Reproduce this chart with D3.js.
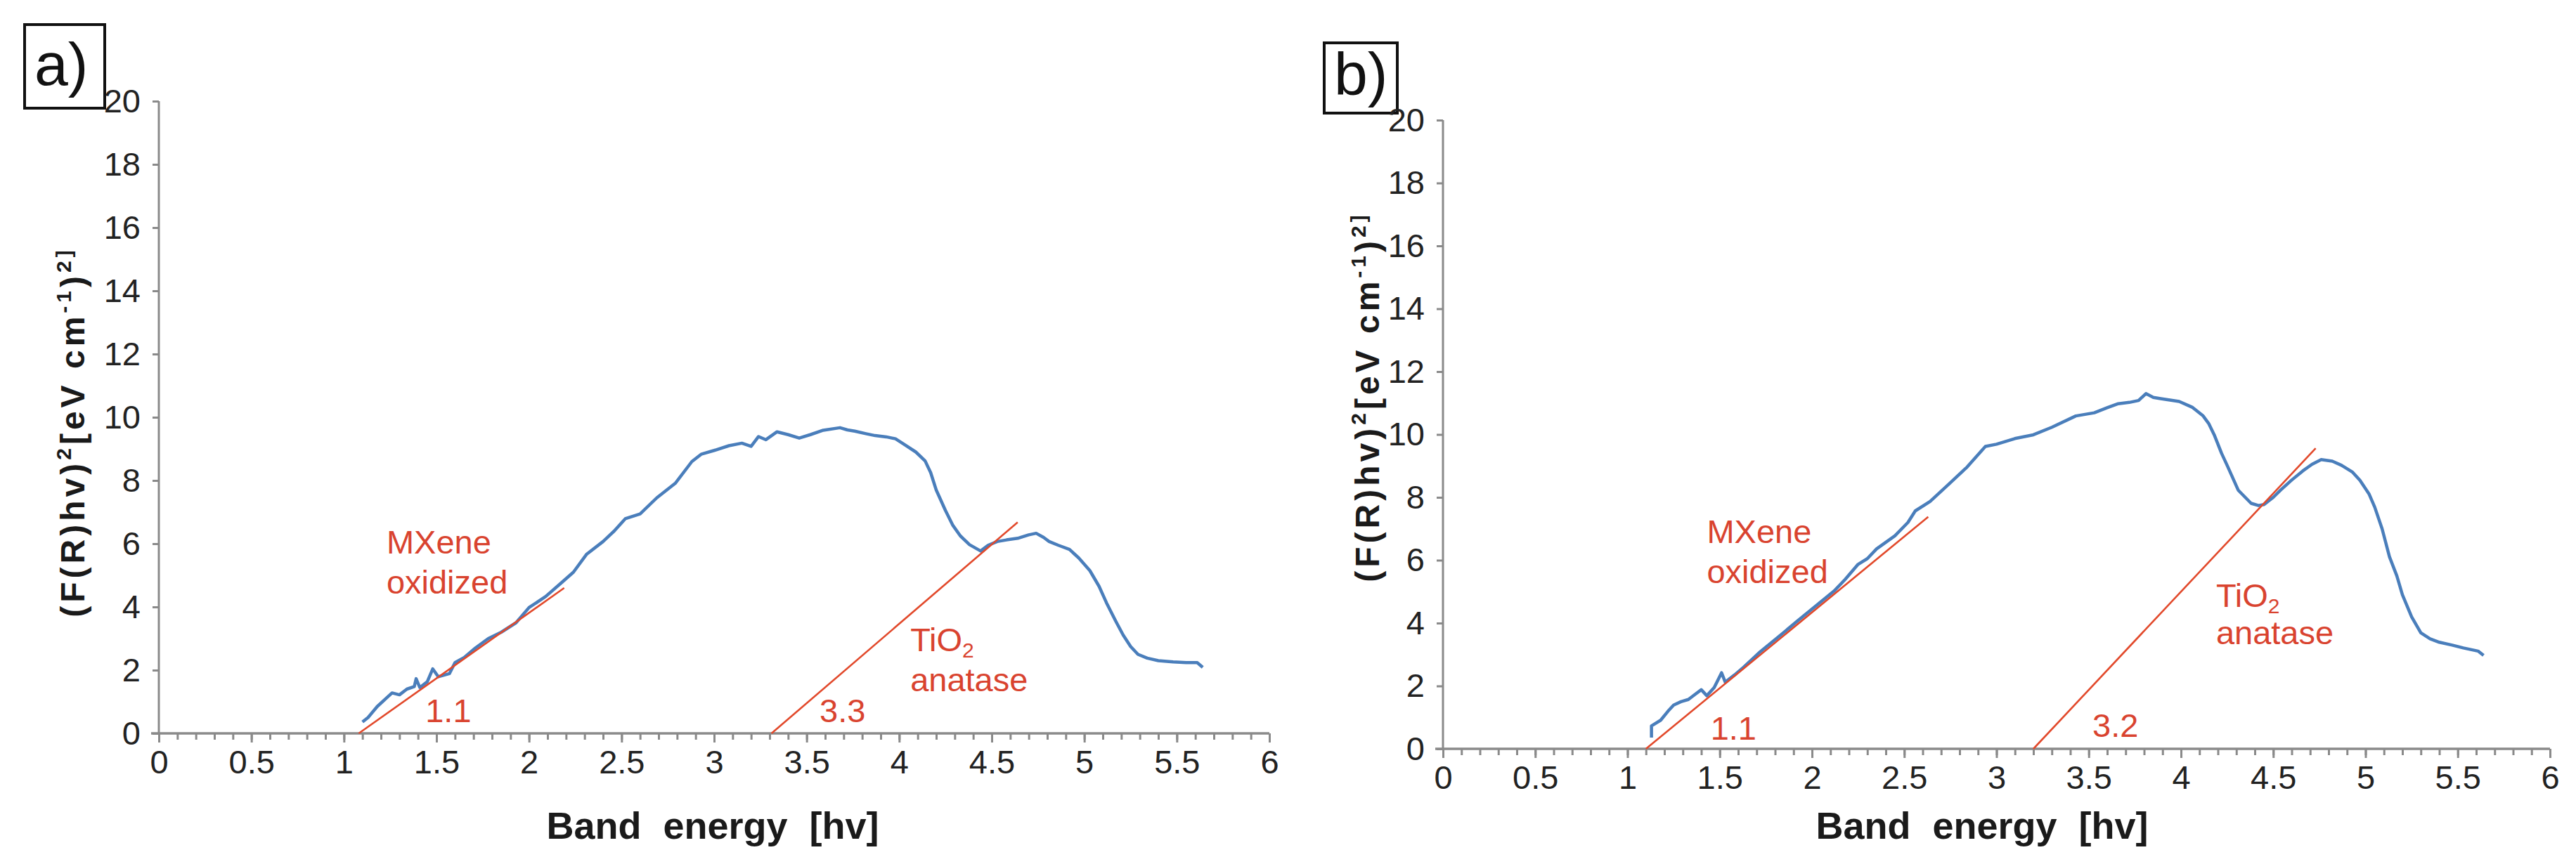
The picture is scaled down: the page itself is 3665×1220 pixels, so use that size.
<!DOCTYPE html>
<meta charset="utf-8">
<style>
body { margin: 0; background: #fff; }
svg { display: block; }
text { font-family: "Liberation Sans", Arial, sans-serif; }
.axis path.domain { display: none; }
.axis line { stroke: #8a8a8a; stroke-width: 3px; }
.axis text { font-size: 47px; fill: #222; }
.ytitle, .xtitle { font-weight: bold; fill: #1a1a1a; }
.note { font-size: 47px; fill: #d9432f; }
</style>
<body>
<div id="chart"></div>
<script src="https://cdn.jsdelivr.net/npm/d3@7"></script>
<script>
// axis ticks
var xTicks = [0, 0.5, 1, 1.5, 2, 2.5, 3, 3.5, 4, 4.5, 5, 5.5, 6];
var yTicks = [0, 2, 4, 6, 8, 10, 12, 14, 16, 18, 20];

// panel a) band energy / (F(R)hv)^2
var energyA = [1.10,1.13,1.18,1.23,1.26,1.30,1.34,1.38,1.39,1.41,1.45,1.48,1.51,1.57,1.60,1.65,1.71,1.78,1.85,1.93,
  2.00,2.09,2.17,2.24,2.31,2.40,2.46,2.52,2.60,2.69,2.79,2.88,2.93,3.00,3.08,3.15,3.20,3.24,3.28,3.34,
  3.40,3.46,3.52,3.59,3.68,3.72,3.76,3.82,3.87,3.93,3.98,4.03,4.09,4.14,4.17,4.20,4.25,4.29,4.33,4.38,
  4.44,4.48,4.53,4.58,4.64,4.70,4.74,4.78,4.81,4.86,4.92,4.97,5.03,5.08,5.12,5.17,5.21,5.25,5.29,5.34,
  5.40,5.48,5.55,5.61,5.64];
var signalA = [0.36,0.50,0.85,1.12,1.28,1.22,1.40,1.48,1.73,1.45,1.63,2.04,1.79,1.89,2.24,2.40,2.70,3.00,3.20,3.50,
  3.98,4.33,4.74,5.10,5.66,6.07,6.40,6.79,6.94,7.45,7.91,8.60,8.83,8.95,9.10,9.18,9.08,9.39,9.29,9.54,
  9.45,9.34,9.45,9.59,9.67,9.60,9.56,9.48,9.42,9.38,9.32,9.13,8.90,8.62,8.25,7.70,7.05,6.58,6.25,5.97,
  5.77,5.95,6.07,6.12,6.17,6.28,6.33,6.20,6.07,5.95,5.82,5.55,5.15,4.65,4.13,3.55,3.11,2.75,2.50,2.38,
  2.30,2.26,2.24,2.24,2.09];

// panel b)
var energyB = [1.13,1.13,1.18,1.22,1.25,1.29,1.33,1.37,1.40,1.43,1.47,1.51,1.53,1.58,1.63,1.72,1.82,1.92,2.02,2.12,
  2.18,2.25,2.30,2.35,2.45,2.52,2.56,2.64,2.74,2.84,2.94,3.00,3.10,3.20,3.30,3.43,3.53,3.60,3.66,3.72,
  3.77,3.81,3.85,3.89,3.99,4.06,4.12,4.15,4.18,4.22,4.25,4.31,4.38,4.42,4.45,4.50,4.54,4.60,4.66,4.71,
  4.76,4.82,4.87,4.93,4.97,5.02,5.05,5.09,5.13,5.17,5.20,5.25,5.30,5.35,5.40,5.47,5.53,5.61,5.64];
var signalB = [0.36,0.73,0.91,1.20,1.39,1.50,1.57,1.75,1.88,1.69,1.95,2.42,2.12,2.35,2.60,3.09,3.57,4.06,4.54,5.02,
  5.39,5.87,6.05,6.36,6.78,7.20,7.57,7.87,8.41,8.96,9.62,9.69,9.87,9.99,10.23,10.59,10.69,10.85,10.98,11.02,
  11.08,11.30,11.18,11.14,11.05,10.87,10.59,10.35,9.99,9.40,9.02,8.23,7.81,7.74,7.77,8.00,8.23,8.55,8.84,9.05,
  9.20,9.15,9.02,8.80,8.54,8.10,7.69,7.00,6.11,5.50,4.90,4.20,3.69,3.50,3.39,3.30,3.21,3.11,2.97];

// tangent lines [x1, y1, x2, y2]
var fitMxeneA = [1.08, 0, 2.19, 4.60];
var fitTio2A  = [3.31, 0, 4.64, 6.68];
var fitMxeneB = [1.10, 0, 2.63, 7.38];
var fitTio2B  = [3.20, 0, 4.73, 9.56];

// band gap labels
var gapLabelsA = ["1.1", "3.3"];
var gapLabelsB = ["1.1", "3.2"];

var svg = d3.select("#chart").append("svg")
    .attr("width", 3665)
    .attr("height", 1220);

function drawPanel(p) {
  var x = d3.scaleLinear().domain([0, 6]).range([p.left, p.right]);
  var y = d3.scaleLinear().domain([0, 20]).range([p.bottom, p.top]);
  var g = svg.append("g");

  // panel letter in a box
  g.append("rect")
      .attr("x", p.box[0]).attr("y", p.box[1])
      .attr("width", p.box[2]).attr("height", p.box[3])
      .attr("fill", "#fff").attr("stroke", "#111").attr("stroke-width", 4);
  g.append("text")
      .attr("x", p.box[0] + 14).attr("y", p.letterBase)
      .style("font-size", "86px").attr("fill", "#111")
      .text(p.letter);

  // minor x ticks
  g.append("g").attr("class", "axis")
      .attr("transform", "translate(0," + p.bottom + ")")
      .call(d3.axisBottom(x).tickValues(d3.range(0, 61).map(function(i){ return i / 10; }))
        .tickSize(9).tickSizeOuter(0).tickFormat(""));
  // major x ticks
  g.append("g").attr("class", "axis")
      .attr("transform", "translate(0," + p.bottom + ")")
      .call(d3.axisBottom(x).tickValues(xTicks).tickSize(13).tickPadding(11).tickSizeOuter(0)
        .tickFormat(function(d){ return String(d); }));
  g.append("line")
      .attr("x1", x(0) - 11).attr("x2", x(6))
      .attr("y1", p.bottom).attr("y2", p.bottom)
      .attr("stroke", "#8a8a8a").attr("stroke-width", 3.5);

  // y axis
  g.append("g").attr("class", "axis")
      .attr("transform", "translate(" + p.left + ",0)")
      .call(d3.axisLeft(y).tickValues(yTicks).tickSize(9).tickPadding(17).tickSizeOuter(0));
  g.append("line")
      .attr("x1", p.left).attr("x2", p.left)
      .attr("y1", y(0)).attr("y2", y(20))
      .attr("stroke", "#8a8a8a").attr("stroke-width", 3);

  // axis titles
  var yt = g.append("text").attr("class", "ytitle")
      .attr("transform", "translate(" + p.ytitle[0] + "," + p.ytitle[1] + ") rotate(-90)")
      .attr("text-anchor", "middle")
      .style("font-size", "48px").style("letter-spacing", "5px");
  yt.append("tspan").text("(F(R)hv)");
  yt.append("tspan").attr("dy", -19).style("font-size", "30px").text("2");
  yt.append("tspan").attr("dy", 19).text("[eV cm");
  yt.append("tspan").attr("dy", -19).style("font-size", "30px").text("-1");
  yt.append("tspan").attr("dy", 19).text(")");
  yt.append("tspan").attr("dy", -19).style("font-size", "30px").text("2]");

  g.append("text").attr("class", "xtitle")
      .attr("x", p.xtitle[0]).attr("y", p.xtitle[1])
      .attr("text-anchor", "middle")
      .style("font-size", "54px").style("word-spacing", "16px")
      .text("Band energy [hv]");

  // spectrum
  var pts = p.energy.map(function(e, i){ return [e, p.signal[i]]; });
  g.append("path")
      .datum(pts)
      .attr("fill", "none")
      .attr("stroke", "#4a7ebb")
      .attr("stroke-width", 4.5)
      .attr("stroke-linejoin", "round")
      .attr("d", d3.line().x(function(d){ return x(d[0]); }).y(function(d){ return y(d[1]); }));

  // tangents
  [p.fit1, p.fit2].forEach(function(f){
    g.append("line")
        .attr("x1", x(f[0])).attr("y1", y(f[1]))
        .attr("x2", x(f[2])).attr("y2", y(f[3]))
        .attr("stroke", "#e2492b").attr("stroke-width", 2.6);
  });

  // notes
  g.append("text").attr("class", "note").attr("x", x(p.mx[0])).attr("y", y(p.mx[1])).text("MXene");
  g.append("text").attr("class", "note").attr("x", x(p.mx[0])).attr("y", y(p.mx[2])).text("oxidized");
  var ti = g.append("text").attr("class", "note").attr("x", x(p.ti[0])).attr("y", y(p.ti[1]));
  ti.append("tspan").text("TiO");
  ti.append("tspan").attr("dy", 9).style("font-size", "30px").text("2");
  g.append("text").attr("class", "note").attr("x", x(p.ti[0])).attr("y", y(p.ti[2])).text("anatase");
  g.append("text").attr("class", "note").attr("x", x(p.gap1[0])).attr("y", y(p.gap1[1])).text(p.gapLabels[0]);
  g.append("text").attr("class", "note").attr("x", x(p.gap2[0])).attr("y", y(p.gap2[1])).text(p.gapLabels[1]);
}

drawPanel({
  letter: "a)", box: [35, 35, 114, 119], letterBase: 121,
  left: 226, right: 1806, top: 144, bottom: 1044,
  ytitle: [120, 615], xtitle: [1014, 1194],
  energy: energyA, signal: signalA,
  fit1: fitMxeneA, fit2: fitTio2A,
  mx: [1.23, 5.70, 4.42], ti: [4.06, 2.6, 1.33],
  gap1: [1.44, 0.36], gap2: [3.57, 0.36], gapLabels: gapLabelsA
});

drawPanel({
  letter: "b)", box: [1884, 61, 104, 100], letterBase: 135,
  left: 2053, right: 3628, top: 171, bottom: 1066,
  ytitle: [1962, 565], xtitle: [2820, 1194],
  energy: energyB, signal: signalB,
  fit1: fitMxeneB, fit2: fitTio2B,
  mx: [1.43, 6.55, 5.28], ti: [4.19, 4.52, 3.33],
  gap1: [1.45, 0.30], gap2: [3.52, 0.37], gapLabels: gapLabelsB
});
</script>
</body>
